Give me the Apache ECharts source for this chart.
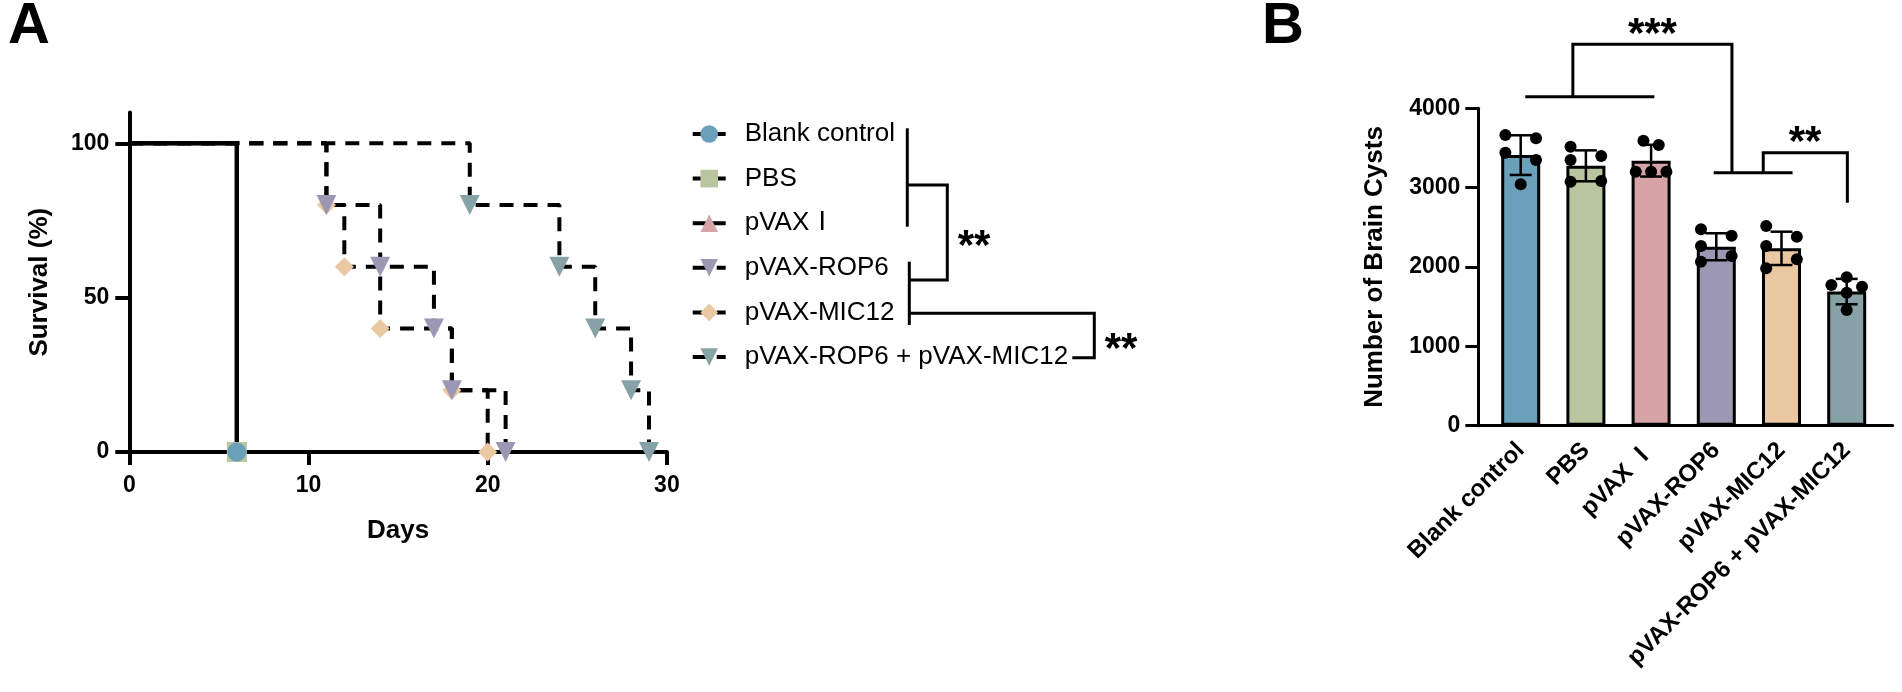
<!DOCTYPE html>
<html>
<head>
<meta charset="utf-8">
<script src="https://cdn.jsdelivr.net/npm/echarts@6/dist/echarts.min.js"></script>
<style>
html, body { margin: 0; padding: 0; background: #fff; }
#chart { width: 1902px; height: 692px; }
</style>
</head>
<body>
<div id="chart"></div>
<script>
// groups (same order in both panels)
var groups = ['Blank control', 'PBS', 'pVAX Ⅰ', 'pVAX-ROP6', 'pVAX-MIC12', 'pVAX-ROP6 + pVAX-MIC12'];

// panel A: survival curves, day of each drop and % alive after it
var survDays = [
	[0, 6],
	[0, 6],
	[0, 6],
	[0, 11, 14, 17, 18, 21],
	[0, 11, 12, 14, 18, 20],
	[0, 19, 24, 26, 28, 29]
];
var survPct = [
	[100, 0],
	[100, 0],
	[100, 0],
	[100, 80, 60, 40, 20, 0],
	[100, 80, 60, 40, 20, 0],
	[100, 80, 60, 40, 20, 0]
];
var survTicksY = [0, 50, 100];

// panel B: brain cysts, mean, SD and the five mice per group
var cystMean = [3410, 3275, 3340, 2255, 2235, 1690];
var cystSD = [250, 195, 200, 170, 210, 160];
var cystDots = [
	[3663, 3622, 3440, 3349, 3042],
	[3516, 3399, 3349, 3075, 3084],
	[3592, 3537, 3201, 3201, 3201],
	[2475, 2394, 2265, 2139, 2067],
	[2517, 2382, 2265, 2097, 1984],
	[1870, 1773, 1752, 1676, 1458]
];
// significance brackets (x in category units, y in cysts)
var sigBrackets = [
	[[0.07, 4146], [2.05, 4146]],
	[[0.8, 4146], [0.8, 4806], [3.24, 4806], [3.24, 3188]],
	[[2.96, 3188], [4.17, 3188]],
	[[3.72, 3188], [3.72, 3440], [5.01, 3440], [5.01, 2810]]
];
var sigText = [['***', 2.02, 5071], ['**', 4.36, 3705]];

// styles
var colors = ['#6aa0b9', '#b8c59e', '#d6a4a6', '#9c98b4', '#eac9a2', '#87a2a6'];
var symbols = ['circle', 'rect', 'triangle',
	'path://M0,0L10,0L5,9Z', 'diamond', 'path://M0,0L10,0L5,9Z'];
var symbolSizes = [19, 20, 19, 20, 19, 20];
var dashed = [false, false, false, true, true, true];
var jitter = [[-1, 1, -1, 1, 0], [-1, 1, -1, -1, 1], [-0.5, 0.5, -1, 0, 1],
	[-1, 1, -1, 1, -1], [-1, 1, -1, 1, -1], [0, -1, 1, 0, 0]];
var FONT = '"Liberation Sans", Arial, "Noto Sans CJK SC", sans-serif';

var chart = echarts.init(document.getElementById('chart'));

function survData(i)
{
	return survDays[i].map(function(d, j) {
		var p = {value: [d, survPct[i][j]]};
		if (j === 0) p.symbol = 'none';
		return p;
	});
}

// draw order: dashed first, solid on top, blank control last
var drawOrder = [4, 3, 5, 2, 1, 0];
var series = [];
drawOrder.forEach(function(i) {
	series.push({
		name: groups[i],
		type: 'line',
		step: 'end',
		xAxisIndex: 0,
		yAxisIndex: 0,
		data: survData(i),
		symbol: symbols[i],
		symbolSize: symbolSizes[i],
		showAllSymbol: true,
		itemStyle: {color: colors[i], borderWidth: 0},
		lineStyle: {color: '#000', width: 4, type: dashed[i] ? [14, 10] : 'solid'},
		emphasis: {disabled: true},
		z: 3
	});
});

// bars
series.push({
	type: 'bar',
	xAxisIndex: 2,
	yAxisIndex: 2,
	barWidth: 39,
	data: cystMean.map(function(v, i) {
		return {value: v, itemStyle: {color: colors[i]}};
	}),
	itemStyle: {borderColor: '#000', borderWidth: 3},
	z: 2
});

// error bars (mean ± SD)
series.push({
	type: 'custom',
	xAxisIndex: 3,
	yAxisIndex: 2,
	data: cystMean.map(function(v, i) { return [i, v, cystSD[i]]; }),
	renderItem: function(params, api) {
		var x = api.value(0), m = api.value(1), s = api.value(2);
		var hi = api.coord([x, m + s]), lo = api.coord([x, m - s]);
		var hw = 11;
		var st = {stroke: '#000', lineWidth: 2.5};
		return {type: 'group', children: [
			{type: 'line', shape: {x1: hi[0], y1: hi[1], x2: lo[0], y2: lo[1]}, style: st},
			{type: 'line', shape: {x1: hi[0] - hw, y1: hi[1], x2: hi[0] + hw, y2: hi[1]}, style: st},
			{type: 'line', shape: {x1: lo[0] - hw, y1: lo[1], x2: lo[0] + hw, y2: lo[1]}, style: st}
		]};
	},
	z: 4
});

// individual mice
var dotData = [];
cystDots.forEach(function(arr, i) {
	arr.forEach(function(v, j) {
		dotData.push([i + jitter[i][j] * 0.235, v]);
	});
});
series.push({
	type: 'scatter',
	xAxisIndex: 3,
	yAxisIndex: 2,
	data: dotData,
	symbolSize: 12,
	itemStyle: {color: '#000', opacity: 1},
	z: 5
});

// significance brackets in panel B
series.push({
	type: 'custom',
	xAxisIndex: 3,
	yAxisIndex: 2,
	clip: false,
	data: sigBrackets.map(function(b, i) { return [i]; }),
	renderItem: function(params, api) {
		var pts = sigBrackets[params.dataIndex].map(function(p) { return api.coord(p); });
		return {type: 'polyline', shape: {points: pts},
			style: {stroke: '#000', lineWidth: 3, fill: null}};
	},
	z: 5
});
series.push({
	type: 'custom',
	xAxisIndex: 3,
	yAxisIndex: 2,
	clip: false,
	data: sigText.map(function(t) { return [t[1], t[2]]; }),
	renderItem: function(params, api) {
		var c = api.coord([api.value(0), api.value(1)]);
		return {type: 'text', x: c[0], y: c[1] + 12,
			style: {text: sigText[params.dataIndex][0], font: 'bold 42px ' + FONT,
				fill: '#000', align: 'center', verticalAlign: 'middle'}};
	},
	z: 5
});

var boldLabel = {color: '#000', fontSize: 23, fontWeight: 'bold', fontFamily: FONT};
var nameStyle = {color: '#000', fontSize: 26, fontWeight: 'bold', fontFamily: FONT};

var option = {
	animation: false,
	title: [
		{text: 'A', left: 8, top: -2, padding: 0,
			textStyle: {fontSize: 58, fontWeight: 'bold', color: '#000', fontFamily: FONT}},
		{text: 'B', left: 1262, top: -2, padding: 0,
			textStyle: {fontSize: 58, fontWeight: 'bold', color: '#000', fontFamily: FONT}}
	],
	legend: {
		orient: 'vertical',
		left: 690.7,
		top: 121,
		padding: 0,
		itemWidth: 33,
		itemHeight: 22,
		itemGap: 18.6,
		selectedMode: false,
		data: groups,
		formatter: function(name) { return name.replace(' Ⅰ', 'Ⅰ'); },
		lineStyle: {width: 4},
		textStyle: {fontSize: 26, color: '#000', fontFamily: FONT, padding: [0, 0, 0, 14]}
	},
	grid: [
		{left: 129.3, top: 112.4, width: 537.6, height: 339.6},
		{left: 1478.3, top: 108.3, width: 414.4, height: 317.4},
		{left: 1488.1, top: 108.3, width: 391.2, height: 317.4}
	],
	xAxis: [
		{
			gridIndex: 0, type: 'value', min: 0, max: 30, interval: 10,
			name: 'Days', nameLocation: 'middle', nameGap: 66, nameTextStyle: nameStyle,
			axisLine: {lineStyle: {color: '#000', width: 4}},
			axisTick: {length: 13, lineStyle: {color: '#000', width: 4}},
			axisLabel: Object.assign({margin: 22}, boldLabel),
			splitLine: {show: false}
		},
		{
			gridIndex: 1, type: 'value', min: 0, max: 1,
			axisLine: {lineStyle: {color: '#000', width: 3}},
			axisTick: {show: false}, axisLabel: {show: false}, splitLine: {show: false}
		},
		{
			gridIndex: 2, type: 'category', data: groups,
			axisLine: {show: false},
			axisTick: {alignWithLabel: true, length: 13, lineStyle: {color: '#000', width: 3}},
			axisLabel: Object.assign({interval: 0, rotate: 45, margin: 21}, boldLabel, {fontSize: 24})
		},
		{
			gridIndex: 2, type: 'value', min: -0.5, max: 5.5, show: false
		}
	],
	yAxis: [
		{
			gridIndex: 0, type: 'value', min: 0, max: 110, interval: 50,
			name: 'Survival (%)', nameLocation: 'middle', nameGap: 76, nameTextStyle: nameStyle,
			axisLine: {show: true, lineStyle: {color: '#000', width: 4}},
			axisTick: {show: true, length: 14, customValues: survTicksY, lineStyle: {color: '#000', width: 4}},
			axisLabel: Object.assign({margin: 20, customValues: survTicksY}, boldLabel),
			splitLine: {show: false}
		},
		{
			gridIndex: 1, type: 'value', min: 0, max: 4000, interval: 1000,
			name: 'Number of Brain Cysts', nameLocation: 'middle', nameGap: 90, nameTextStyle: nameStyle,
			axisLine: {show: true, lineStyle: {color: '#000', width: 3}},
			axisTick: {show: true, length: 13, lineStyle: {color: '#000', width: 3}},
			axisLabel: Object.assign({margin: 18, formatter: function(v) { return String(v); }}, boldLabel),
			splitLine: {show: false}
		},
		{
			gridIndex: 2, type: 'value', min: 0, max: 4000, show: false, splitLine: {show: false}
		}
	],
	// comparison brackets beside the legend
	graphic: [
		{type: 'polyline', shape: {points: [[907.3, 128.3], [907.3, 226.7]]}, style: {stroke: '#000', lineWidth: 3, fill: null}},
		{type: 'polyline', shape: {points: [[907.3, 185], [947.3, 185], [947.3, 280], [909.3, 280]]}, style: {stroke: '#000', lineWidth: 3, fill: null}},
		{type: 'polyline', shape: {points: [[909.3, 261.7], [909.3, 325]]}, style: {stroke: '#000', lineWidth: 3, fill: null}},
		{type: 'polyline', shape: {points: [[909.3, 313.3], [1094.3, 313.3], [1094.3, 357.7], [1072.3, 357.7]]}, style: {stroke: '#000', lineWidth: 3, fill: null}},
		{type: 'text', x: 974, y: 247, style: {text: '**', font: 'bold 42px ' + FONT, fill: '#000', align: 'center', verticalAlign: 'middle'}},
		{type: 'text', x: 1121, y: 350, style: {text: '**', font: 'bold 42px ' + FONT, fill: '#000', align: 'center', verticalAlign: 'middle'}}
	],
	series: series
};
chart.setOption(option);
</script>
</body>
</html>
